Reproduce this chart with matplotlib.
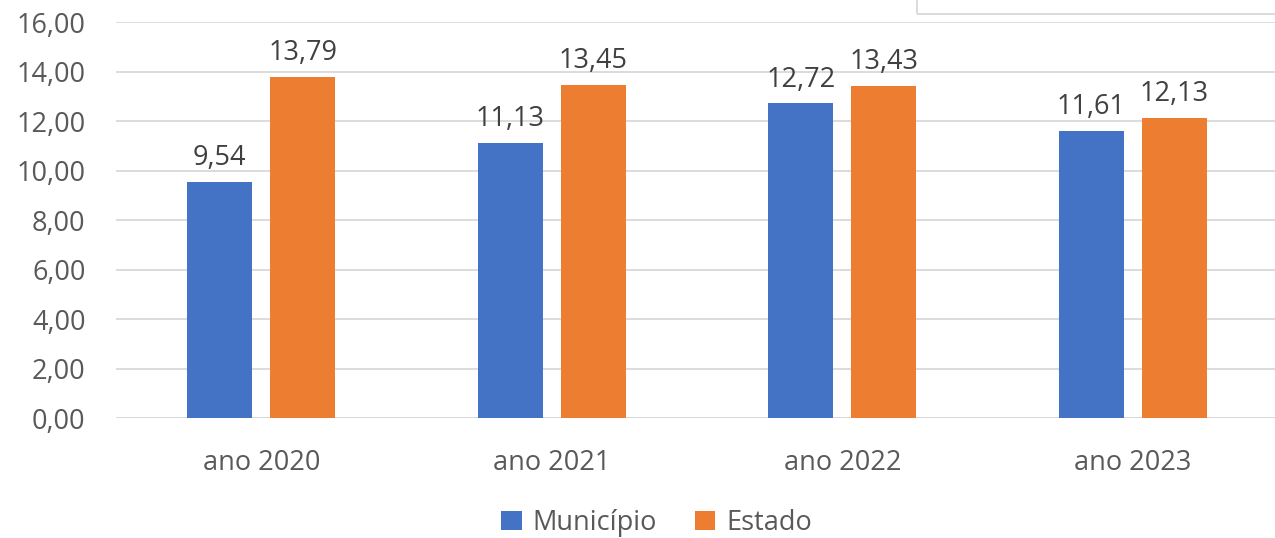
import numpy as np
import matplotlib.pyplot as plt
from matplotlib.patches import Rectangle

categorias = ["ano 2020", "ano 2021", "ano 2022", "ano 2023"]
municipio = [9.54, 11.13, 12.72, 11.61]
estado = [13.79, 13.45, 13.43, 12.13]
yticks = [0, 2, 4, 6, 8, 10, 12, 14, 16]

plt.rcParams['font.family'] = ['Open Sans', 'DejaVu Sans']

azul = '#4472C4'
laranja = '#ED7D31'
fs = 19.5

fig = plt.figure(figsize=(12.75, 5.38), dpi=100)
ax = fig.add_axes([0.091, 0.223, 0.9114, 0.736])

x = np.arange(len(categorias))
w = 0.224
off = 0.143
b1 = ax.bar(x - off, municipio, w, color=azul, label='Município', zorder=3)
b2 = ax.bar(x + off, estado, w, color=laranja, label='Estado', zorder=3)

def fmt(v):
    return f"{v:.2f}".replace('.', ',')

for bars, vals in [(b1, municipio), (b2, estado)]:
    for r, v in zip(bars, vals):
        ax.annotate(fmt(v), (r.get_x() + r.get_width() / 2, v),
                    xytext=(0, 7), textcoords='offset points',
                    ha='center', va='bottom', fontsize=fs, color='#404040')

ax.set_xlim(-0.5, 3.5)
ax.set_ylim(0, 16)
ax.set_yticks(yticks)
ax.set_yticklabels([fmt(t) for t in yticks], fontsize=fs, color='#595959')
ax.set_xticks(x)
ax.set_xticklabels(categorias, fontsize=fs, color='#595959')
ax.tick_params(axis='both', length=0)
ax.tick_params(axis='y', pad=22)
ax.tick_params(axis='x', pad=22)
ax.grid(axis='y', color='#D9D9D9', linewidth=1.3, zorder=0)
for s in ax.spines.values():
    s.set_visible(False)
ax.axhline(0, color='#D9D9D9', linewidth=1.3, zorder=2)

fig.legend(loc='center', bbox_to_anchor=(0.515, 0.028), ncol=2, frameon=False,
           fontsize=fs, labelcolor='#595959', handlelength=0.75,
           handleheight=0.75, handletextpad=0.4, columnspacing=1.4)

# caixa cortada no canto superior direito
fig.patches.append(Rectangle((917 / 1275, 1 - 14 / 538), 0.3, 0.1,
                             transform=fig.transFigure, fill=False,
                             edgecolor='#D9D9D9', linewidth=1.3))

fig.savefig('out.png', dpi=100)
